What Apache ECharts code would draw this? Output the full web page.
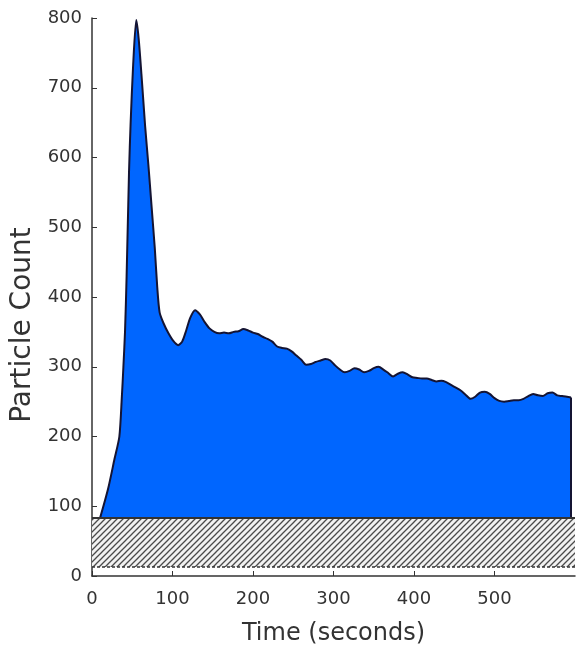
<!DOCTYPE html>
<html>
<head>
<meta charset="utf-8">
<script src="https://cdn.jsdelivr.net/npm/echarts@6/dist/echarts.min.js"></script>
<style>html,body{margin:0;padding:0;background:#fff}#c{width:576px;height:651px}</style>
</head>
<body>
<div id="c"></div>
<script>
// ---- data ----
const times = [10,20,28,34,37,39,41,43,46,48,51,55,58,62,66,70,74,78,81,84,89,95,101,107,112,117,122,128,134,140,146,152,158,164,170,176,182,188,194,200,206,212,218,224,230,236,242,248,254,260,266,272,278,284,290,296,302,308,314,320,326,332,338,344,350,356,362,368,374,380,386,392,398,404,410,416,422,428,434,440,446,452,458,464,470,476,482,488,494,500,506,512,518,524,530,536,542,548,554,560,566,572,578,584,590,595];
const counts = [83,125,168,200,255,300,350,430,580,650,730,797,770,710,645,590,530,470,415,378,362,348,337,331,336,352,370,381,375,364,355,350,348,349,348,350,351,354,352,349,347,343,340,336,329,327,326,322,316,310,303,304,307,309,311,309,302,296,292,294,298,296,292,294,298,300,296,291,286,290,292,289,285,284,283,283,281,279,280,278,274,270,266,260,254,257,263,264,261,255,251,250,251,252,252,254,258,261,259,258,262,263,259,258,257,256];
const baseline = 83;                // top of hatched background band
const bandRange = [0, 600, 13, 83]; // t start, t end, low, high
const xTicks = [0,100,200,300,400,500];
const yTicks = [0,100,200,300,400,500,600,700,800];
const yTitle = 'Particle Count';
const xTitle = 'Time (seconds)';

// hatch pattern
const tile = document.createElement('canvas');
tile.width = 6; tile.height = 6;
const g = tile.getContext('2d');
g.fillStyle = '#f2f2f2'; g.fillRect(0,0,6,6);
g.strokeStyle = '#4a4a4a'; g.lineWidth = 1.3;
g.beginPath();
g.moveTo(-1,7); g.lineTo(7,-1);
g.moveTo(-1,1); g.lineTo(1,-1);
g.moveTo(5,7); g.lineTo(7,5);
g.stroke();

const curve = times.map((t,i)=>[t,counts[i]]);
const lastT = times[times.length-1], lastV = counts[counts.length-1];

const chart = echarts.init(document.getElementById('c'));
const font = 'DejaVu Sans';
chart.setOption({
  animation:false,
  grid:{left:92,right:1,top:18,bottom:74},
  graphic:[{type:'text',x:23,y:325,rotation:Math.PI/2,
    style:{text:yTitle,align:'center',verticalAlign:'middle',font:'28px "DejaVu Sans"',fill:'#333'}}],
  xAxis:{type:'value',min:0,max:600,interval:100,
    name:xTitle,nameLocation:'middle',nameGap:46,
    nameTextStyle:{fontFamily:font,fontSize:24,color:'#333'},
    axisLine:{lineStyle:{color:'#333',width:1.5}},
    axisTick:{inside:true,length:5,lineStyle:{color:'#333'}},
    axisLabel:{showMaxLabel:false,fontFamily:font,fontSize:18,color:'#333',margin:14,
      formatter:v=>xTicks.includes(v)?String(v):''},
    splitLine:{show:false}},
  yAxis:{type:'value',min:0,max:800,interval:100,
    axisLine:{show:true,lineStyle:{color:'#333',width:1.5}},
    axisTick:{show:true,inside:true,length:5,lineStyle:{color:'#333'}},
    axisLabel:{fontFamily:font,fontSize:18,color:'#333',margin:10,
      formatter:v=>yTicks.includes(v)?String(v):''},
    splitLine:{show:false}},
  series:[
    {type:'custom',z:1,data:[bandRange],
     renderItem:(params,api)=>{
       const p0 = api.coord([api.value(0),api.value(3)]);
       const p1 = api.coord([api.value(1),api.value(2)]);
       return {type:'group',children:[
         {type:'rect',shape:{x:p0[0],y:p0[1],width:p1[0]-p0[0],height:p1[1]-p0[1]},style:{fill:{image:tile,repeat:'repeat'}}},
         {type:'line',shape:{x1:p0[0],y1:p1[1],x2:p1[0],y2:p1[1]},style:{stroke:'#333',lineWidth:1.5,lineDash:[3,2]}}
       ]};
     }},
    {type:'line',z:3,data:curve,smooth:0.25,showSymbol:false,symbol:'none',
     lineStyle:{color:'#141433',width:2},
     areaStyle:{color:'#0066ff',opacity:1,origin:baseline}},
    {type:'line',z:4,data:[[lastT,lastV],[lastT,baseline]],symbol:'none',
     lineStyle:{color:'#141433',width:2}},
    {type:'line',z:4,data:[[bandRange[0],baseline],[bandRange[1],baseline]],symbol:'none',
     lineStyle:{color:'#333',width:2}}
  ]
});
</script>
</body>
</html>
